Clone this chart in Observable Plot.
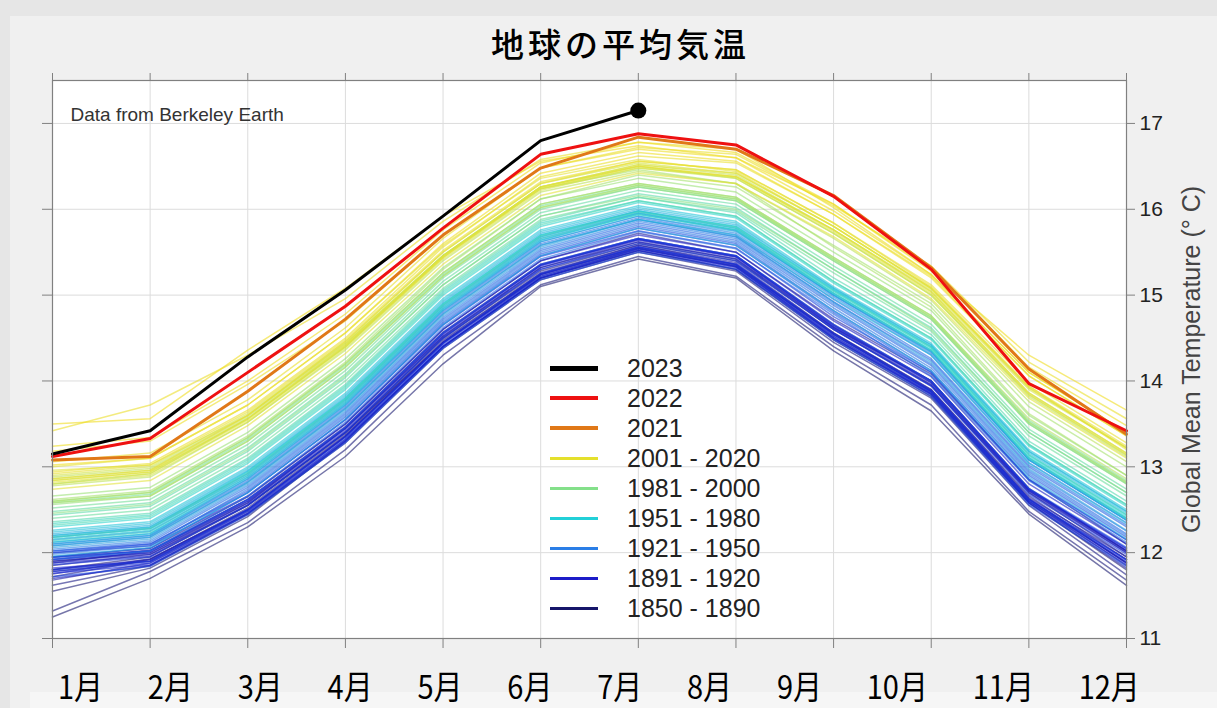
<!DOCTYPE html>
<html>
<head>
<meta charset="utf-8">
<script src="https://cdn.jsdelivr.net/npm/d3@7"></script>
<script src="https://cdn.jsdelivr.net/npm/@observablehq/plot@0.6"></script>
<style>
  html, body { margin: 0; padding: 0; }
  body { width: 1217px; height: 708px; background: #e6e6e6; position: relative; overflow: hidden;
         font-family: "Liberation Sans", Arial, sans-serif; }
  #panel { position: absolute; left: 10px; top: 16px; right: 0; bottom: 0; background: #f0f0f0; }
  #foot { position: absolute; left: 30px; top: 692px; right: 0; bottom: 0; background: #f6f6f6; }
  #title { position: absolute; left: 12px; width: 1217px; top: 19px; text-align: center;
           font-family: "Noto Sans CJK JP"; font-size: 33px; font-weight: 500; letter-spacing: 4px; color: #000; }
  #chart { position: absolute; left: 0; top: 65px; }
  #legend { position: absolute; left: 550px; top: 353px; }
  .row { display: flex; align-items: center; height: 30px; }
  .sw { width: 48px; margin-right: 29px; }
  .lab { font-size: 25px; color: #222; line-height: 30px; }
  #months { position: absolute; left: 58px; width: 1082px; top: 669px; display: flex; justify-content: space-between;
            font-family: "Noto Sans CJK JP"; font-size: 29px; line-height: 30px; color: #000; }
  #months span { display: inline-block; transform: scaleY(1.12); }
</style>
</head>
<body>
<div id="panel"></div>
<div id="foot"></div>
<div id="title"></div>
<div id="chart"></div>
<div id="legend"></div>
<div id="months"></div>
<script>
// Months, tick values and labels
const months = [1, 2, 3, 4, 5, 6, 7, 8, 9, 10, 11, 12];
const monthLabels = ["1月", "2月", "3月", "4月", "5月", "6月", "7月", "8月", "9月", "10月", "11月", "12月"];
const yTicks = [11, 12, 13, 14, 15, 16, 17];
const titleText = "地球の平均気温";
const yLabel = "Global Mean Temperature (° C)";
const credit = "Data from Berkeley Earth";

// Monthly global mean temperature (°C), one row per year
const years1850_1890 = [1850, 1853, 1856, 1859, 1862, 1865, 1868, 1871, 1874, 1877, 1880, 1883, 1886, 1889];
const temps1850_1890 = [
  [11.25, 11.70, 12.30, 13.12, 14.20, 15.10, 15.42, 15.20, 14.35, 13.65, 12.45, 11.62],
  [11.55, 11.82, 12.42, 13.30, 14.40, 15.20, 15.52, 15.30, 14.48, 13.82, 12.58, 11.80],
  [11.32, 11.78, 12.35, 13.20, 14.30, 15.12, 15.45, 15.22, 14.40, 13.72, 12.48, 11.68],
  [11.80, 11.95, 12.55, 13.40, 14.50, 15.28, 15.60, 15.40, 14.60, 13.95, 12.70, 11.95],
  [11.62, 11.85, 12.45, 13.28, 14.38, 15.18, 15.50, 15.28, 14.45, 13.80, 12.55, 11.74],
  [11.90, 12.00, 12.58, 13.45, 14.52, 15.32, 15.62, 15.42, 14.62, 14.00, 12.75, 12.02],
  [11.72, 11.92, 12.52, 13.38, 14.48, 15.25, 15.58, 15.36, 14.56, 13.90, 12.66, 11.92],
  [11.85, 11.98, 12.55, 13.40, 14.45, 15.24, 15.55, 15.34, 14.55, 13.88, 12.62, 11.88],
  [11.78, 11.90, 12.48, 13.35, 14.44, 15.22, 15.54, 15.33, 14.52, 13.86, 12.60, 11.85],
  [11.95, 12.05, 12.65, 13.50, 14.60, 15.40, 15.72, 15.50, 14.72, 14.08, 12.85, 12.10],
  [11.88, 12.02, 12.60, 13.45, 14.55, 15.35, 15.65, 15.45, 14.65, 13.98, 12.72, 12.00],
  [11.68, 11.88, 12.46, 13.32, 14.40, 15.20, 15.52, 15.30, 14.50, 13.84, 12.58, 11.82],
  [11.75, 11.93, 12.50, 13.36, 14.45, 15.24, 15.56, 15.35, 14.54, 13.88, 12.63, 11.88],
  [11.92, 12.03, 12.62, 13.47, 14.57, 15.36, 15.66, 15.46, 14.66, 14.00, 12.74, 12.02]
];
const years1891_1920 = [1891, 1893, 1895, 1897, 1899, 1901, 1903, 1905, 1907, 1909, 1911, 1913, 1915, 1917, 1919];
const temps1891_1920 = [
  [11.80, 11.92, 12.50, 13.36, 14.46, 15.26, 15.58, 15.38, 14.56, 13.90, 12.64, 11.95],
  [11.70, 11.85, 12.45, 13.30, 14.40, 15.20, 15.54, 15.33, 14.50, 13.85, 12.60, 11.88],
  [11.90, 11.98, 12.58, 13.42, 14.52, 15.32, 15.64, 15.44, 14.62, 13.96, 12.72, 12.02],
  [12.00, 12.08, 12.66, 13.50, 14.60, 15.40, 15.70, 15.50, 14.70, 14.05, 12.80, 12.10],
  [11.88, 11.96, 12.56, 13.40, 14.50, 15.30, 15.62, 15.42, 14.60, 13.94, 12.70, 12.00],
  [11.95, 12.02, 12.62, 13.46, 14.56, 15.35, 15.66, 15.46, 14.64, 14.00, 12.74, 12.05],
  [11.82, 11.90, 12.50, 13.35, 14.44, 15.24, 15.56, 15.36, 14.54, 13.88, 12.62, 11.92],
  [11.92, 12.00, 12.60, 13.44, 14.54, 15.34, 15.65, 15.45, 14.63, 13.98, 12.73, 12.04],
  [11.76, 11.86, 12.46, 13.30, 14.40, 15.20, 15.52, 15.32, 14.50, 13.84, 12.58, 11.86],
  [11.78, 11.88, 12.48, 13.32, 14.42, 15.22, 15.54, 15.34, 14.52, 13.86, 12.60, 11.90],
  [11.80, 11.90, 12.50, 13.34, 14.44, 15.25, 15.56, 15.36, 14.55, 13.88, 12.62, 11.92],
  [11.86, 11.95, 12.55, 13.40, 14.50, 15.30, 15.60, 15.40, 14.60, 13.94, 12.68, 11.98],
  [12.02, 12.10, 12.70, 13.55, 14.65, 15.45, 15.75, 15.55, 14.75, 14.10, 12.85, 12.15],
  [11.72, 11.84, 12.44, 13.28, 14.38, 15.18, 15.50, 15.30, 14.48, 13.82, 12.56, 11.84],
  [11.94, 12.02, 12.62, 13.46, 14.56, 15.36, 15.66, 15.46, 14.66, 14.00, 12.75, 12.06]
];
const years1921_1950 = [1921, 1923, 1925, 1927, 1929, 1931, 1933, 1935, 1937, 1939, 1941, 1944, 1947, 1950];
const temps1921_1950 = [
  [12.00, 12.10, 12.72, 13.58, 14.68, 15.48, 15.80, 15.60, 14.82, 14.12, 12.90, 12.18],
  [11.95, 12.05, 12.70, 13.55, 14.66, 15.46, 15.78, 15.58, 14.80, 14.10, 12.86, 12.15],
  [12.08, 12.18, 12.82, 13.68, 14.78, 15.58, 15.88, 15.68, 14.92, 14.24, 13.00, 12.30],
  [12.02, 12.12, 12.76, 13.62, 14.72, 15.52, 15.84, 15.64, 14.88, 14.18, 12.94, 12.22],
  [11.92, 12.02, 12.66, 13.52, 14.62, 15.42, 15.74, 15.54, 14.78, 14.06, 12.84, 12.12],
  [12.10, 12.20, 12.84, 13.70, 14.80, 15.60, 15.90, 15.70, 14.95, 14.26, 13.02, 12.32],
  [11.98, 12.08, 12.74, 13.60, 14.70, 15.50, 15.82, 15.62, 14.85, 14.15, 12.92, 12.20],
  [12.04, 12.14, 12.78, 13.64, 14.74, 15.54, 15.86, 15.66, 14.90, 14.20, 12.96, 12.25],
  [12.12, 12.22, 12.86, 13.72, 14.82, 15.62, 15.92, 15.72, 14.98, 14.30, 13.05, 12.35],
  [12.15, 12.25, 12.88, 13.74, 14.84, 15.64, 15.95, 15.75, 15.00, 14.32, 13.08, 12.38],
  [12.20, 12.30, 12.92, 13.78, 14.88, 15.68, 15.98, 15.78, 15.02, 14.35, 13.10, 12.40],
  [12.18, 12.28, 12.90, 13.76, 14.86, 15.66, 15.96, 15.76, 15.00, 14.34, 13.08, 12.38],
  [12.06, 12.16, 12.80, 13.66, 14.76, 15.56, 15.88, 15.68, 14.92, 14.22, 12.98, 12.26],
  [11.96, 12.06, 12.70, 13.56, 14.66, 15.46, 15.78, 15.58, 14.82, 14.12, 12.88, 12.16]
];
const years1951_1980 = [1951, 1953, 1955, 1957, 1959, 1961, 1963, 1965, 1967, 1969, 1971, 1973, 1975, 1977, 1979];
const temps1951_1980 = [
  [12.10, 12.20, 12.86, 13.72, 14.82, 15.62, 15.92, 15.74, 15.00, 14.34, 13.08, 12.38],
  [12.22, 12.32, 12.96, 13.82, 14.92, 15.72, 16.00, 15.82, 15.08, 14.42, 13.18, 12.48],
  [12.08, 12.18, 12.82, 13.68, 14.78, 15.58, 15.88, 15.70, 14.96, 14.30, 13.04, 12.34],
  [12.18, 12.28, 12.94, 13.80, 14.90, 15.70, 15.98, 15.80, 15.06, 14.40, 13.16, 12.46],
  [12.24, 12.34, 12.98, 13.84, 14.94, 15.74, 16.02, 15.84, 15.08, 14.42, 13.18, 12.48],
  [12.26, 12.36, 13.00, 13.86, 14.96, 15.76, 16.04, 15.86, 15.10, 14.44, 13.20, 12.50],
  [12.20, 12.30, 12.95, 13.80, 14.90, 15.70, 15.98, 15.80, 15.06, 14.40, 13.14, 12.44],
  [12.12, 12.22, 12.88, 13.74, 14.84, 15.64, 15.94, 15.76, 15.02, 14.36, 13.10, 12.40],
  [12.16, 12.26, 12.92, 13.78, 14.88, 15.68, 15.96, 15.78, 15.04, 14.38, 13.12, 12.42],
  [12.30, 12.40, 13.04, 13.90, 15.00, 15.80, 16.08, 15.90, 15.14, 14.48, 13.24, 12.54],
  [12.14, 12.24, 12.90, 13.76, 14.86, 15.66, 15.94, 15.76, 15.02, 14.36, 13.10, 12.40],
  [12.34, 12.44, 13.08, 13.94, 15.04, 15.84, 16.10, 15.92, 15.16, 14.50, 13.26, 12.56],
  [12.18, 12.28, 12.93, 13.79, 14.89, 15.69, 15.97, 15.79, 15.05, 14.39, 13.14, 12.44],
  [12.32, 12.42, 13.06, 13.92, 15.02, 15.82, 16.10, 15.92, 15.16, 14.50, 13.26, 12.56],
  [12.36, 12.46, 13.10, 13.96, 15.06, 15.86, 16.14, 15.96, 15.20, 14.54, 13.30, 12.60]
];
const years1981_2000 = [1981, 1983, 1985, 1987, 1988, 1990, 1992, 1994, 1995, 1997, 1998, 1999, 2000];
const temps1981_2000 = [
  [12.44, 12.54, 13.18, 14.04, 15.12, 15.92, 16.18, 16.02, 15.30, 14.62, 13.40, 12.70],
  [12.48, 12.58, 13.22, 14.08, 15.16, 15.96, 16.22, 16.06, 15.34, 14.66, 13.44, 12.74],
  [12.40, 12.50, 13.14, 14.00, 15.08, 15.88, 16.14, 15.98, 15.26, 14.58, 13.36, 12.66],
  [12.52, 12.62, 13.26, 14.12, 15.20, 16.00, 16.26, 16.10, 15.40, 14.72, 13.50, 12.80],
  [12.58, 12.68, 13.32, 14.18, 15.24, 16.04, 16.28, 16.12, 15.42, 14.74, 13.52, 12.82],
  [12.60, 12.70, 13.34, 14.20, 15.26, 16.06, 16.30, 16.14, 15.44, 14.76, 13.54, 12.84],
  [12.46, 12.56, 13.20, 14.06, 15.12, 15.92, 16.16, 16.00, 15.30, 14.60, 13.40, 12.70],
  [12.56, 12.66, 13.30, 14.16, 15.22, 16.02, 16.26, 16.10, 15.40, 14.72, 13.50, 12.80],
  [12.66, 12.76, 13.40, 14.26, 15.32, 16.12, 16.36, 16.20, 15.50, 14.82, 13.60, 12.90],
  [12.62, 12.72, 13.36, 14.22, 15.30, 16.12, 16.40, 16.26, 15.58, 14.90, 13.70, 13.00],
  [12.80, 12.92, 13.56, 14.40, 15.46, 16.24, 16.46, 16.30, 15.56, 14.86, 13.62, 12.90],
  [12.58, 12.66, 13.30, 14.16, 15.22, 16.02, 16.28, 16.12, 15.42, 14.74, 13.52, 12.82],
  [12.60, 12.70, 13.34, 14.20, 15.26, 16.06, 16.30, 16.14, 15.44, 14.76, 13.56, 12.86]
];
const years2001_2020 = [2001, 2002, 2003, 2004, 2005, 2006, 2007, 2008, 2009, 2010, 2011, 2012, 2013, 2014, 2015, 2016, 2017, 2018, 2019, 2020];
const temps2001_2020 = [
  [12.78, 12.88, 13.52, 14.36, 15.40, 16.20, 16.44, 16.30, 15.66, 14.94, 13.76, 13.06],
  [12.88, 12.98, 13.60, 14.44, 15.46, 16.26, 16.50, 16.36, 15.72, 15.00, 13.82, 13.12],
  [12.86, 12.96, 13.58, 14.42, 15.46, 16.26, 16.52, 16.40, 15.76, 15.04, 13.86, 13.16],
  [12.84, 12.94, 13.56, 14.40, 15.44, 16.24, 16.48, 16.36, 15.72, 15.00, 13.84, 13.14],
  [12.90, 13.00, 13.62, 14.46, 15.50, 16.30, 16.54, 16.42, 15.80, 15.08, 13.92, 13.22],
  [12.80, 12.90, 13.52, 14.38, 15.42, 16.22, 16.48, 16.38, 15.76, 15.06, 13.90, 13.22],
  [12.96, 13.02, 13.60, 14.44, 15.46, 16.26, 16.50, 16.38, 15.74, 15.02, 13.84, 13.14],
  [12.74, 12.84, 13.48, 14.32, 15.36, 16.16, 16.42, 16.30, 15.68, 14.96, 13.80, 13.10],
  [12.82, 12.92, 13.54, 14.40, 15.44, 16.26, 16.52, 16.42, 15.80, 15.08, 13.92, 13.22],
  [13.00, 13.10, 13.72, 14.56, 15.58, 16.36, 16.58, 16.44, 15.80, 15.08, 13.94, 13.20],
  [12.84, 12.94, 13.56, 14.42, 15.44, 16.24, 16.50, 16.38, 15.76, 15.04, 13.86, 13.16],
  [12.86, 12.96, 13.60, 14.46, 15.50, 16.30, 16.56, 16.46, 15.84, 15.10, 13.94, 13.24],
  [12.92, 13.02, 13.64, 14.48, 15.52, 16.32, 16.56, 16.46, 15.84, 15.12, 13.98, 13.28],
  [12.94, 13.04, 13.66, 14.50, 15.56, 16.38, 16.62, 16.54, 15.94, 15.22, 14.06, 13.36],
  [13.06, 13.16, 13.78, 14.62, 15.66, 16.48, 16.72, 16.64, 16.04, 15.34, 14.22, 13.56],
  [13.42, 13.72, 14.30, 14.96, 15.86, 16.58, 16.78, 16.70, 16.02, 15.24, 14.10, 13.40],
  [13.18, 13.30, 13.96, 14.70, 15.70, 16.48, 16.70, 16.60, 15.98, 15.24, 14.10, 13.40],
  [13.02, 13.10, 13.72, 14.56, 15.60, 16.42, 16.66, 16.56, 15.94, 15.20, 14.06, 13.36],
  [13.24, 13.34, 14.00, 14.78, 15.76, 16.54, 16.78, 16.66, 16.06, 15.30, 14.16, 13.48],
  [13.50, 13.56, 14.36, 15.08, 15.92, 16.56, 16.74, 16.60, 16.06, 15.28, 14.30, 13.66]
];
const temps2021 = [13.08, 13.12, 13.88, 14.72, 15.70, 16.48, 16.84, 16.70, 16.16, 15.32, 14.14, 13.38];
const temps2022 = [13.12, 13.33, 14.10, 14.87, 15.78, 16.64, 16.88, 16.75, 16.15, 15.30, 13.97, 13.42];
const temps2023 = [13.15, 13.42, 14.28, 15.06, 15.92, 16.80, 17.15];

// Legend entries
const legendLabels = ["2023", "2022", "2021", "2001 - 2020", "1981 - 2000", "1951 - 1980", "1921 - 1950", "1891 - 1920", "1850 - 1890"];
const legendColors = ["#000000", "#ee1111", "#e07818", "#e4e02c", "#84e08a", "#22d0d8", "#2a7ee6", "#1c1cc8", "#16166a"];

// Jet-like ramp from the oldest years (navy) to the most recent (yellow)
const rampYears = [1850, 1890, 1905, 1935, 1965, 1990, 2008, 2020];
const rampColors = ["#1a1a70", "#1c1cb0", "#1420d8", "#2a7ee6", "#22d0d8", "#80e090", "#e2e23a", "#f0dc20"];
const yearColor = d3.scaleLinear().domain(rampYears).range(rampColors).interpolate(d3.interpolateRgb);

const toRows = (years, temps) =>
  years.flatMap((year, i) => temps[i].map((temp, m) => ({year, month: months[m], temp})));

const history = [
  toRows(years1850_1890, temps1850_1890),
  toRows(years1891_1920, temps1891_1920),
  toRows(years1921_1950, temps1921_1950),
  toRows(years1951_1980, temps1951_1980),
  toRows(years1981_2000, temps1981_2000),
  toRows(years2001_2020, temps2001_2020)
].flat();
const rows2021 = toRows([2021], [temps2021]);
const rows2022 = toRows([2022], [temps2022]);
const rows2023 = toRows([2023], [temps2023]);

const chart = Plot.plot({
  width: 1217,
  height: 590,
  marginLeft: 52,
  marginRight: 91,
  marginTop: 15,
  marginBottom: 17,
  style: {background: "transparent", fontFamily: "'Liberation Sans', Arial, sans-serif", fontSize: "21px", color: "#222"},
  x: {domain: [1, 12]},
  y: {domain: [11, 17.5]},
  marks: [
    Plot.frame({fill: "white", stroke: null}),
    Plot.gridX(months, {stroke: "#dcdcdc", strokeOpacity: 1}),
    Plot.gridY(yTicks, {stroke: "#dcdcdc", strokeOpacity: 1}),
    Plot.text([credit], {frameAnchor: "top-left", dx: 18, dy: 27, textAnchor: "start", fontSize: 19, fill: "#333"}),
    Plot.line(history, {x: "month", y: "temp", z: "year", stroke: d => yearColor(d.year), strokeWidth: 1.5, strokeOpacity: 0.6}),
    Plot.line(rows2021, {x: "month", y: "temp", stroke: legendColors[2], strokeWidth: 3}),
    Plot.line(rows2022, {x: "month", y: "temp", stroke: legendColors[1], strokeWidth: 3}),
    Plot.line(rows2023, {x: "month", y: "temp", stroke: legendColors[0], strokeWidth: 3}),
    Plot.dot(rows2023.slice(-1), {x: "month", y: "temp", r: 8, fill: legendColors[0], stroke: null}),
    Plot.frame({stroke: "#808080", strokeWidth: 1.2}),
    Plot.axisX(months, {anchor: "bottom", tickSize: 10, tickFormat: () => "", label: null, stroke: "#808080"}),
    Plot.axisX(months, {anchor: "top", tickSize: 8, tickFormat: () => "", label: null, stroke: "#808080"}),
    Plot.axisY(yTicks, {anchor: "left", tickSize: 10, tickFormat: () => "", label: null, stroke: "#808080"}),
    Plot.axisY(yTicks, {anchor: "right", tickSize: 8, tickPadding: 5, tickFormat: "d", label: null, stroke: "#808080", fill: "#222"}),
    Plot.text([yLabel], {frameAnchor: "right", rotate: -90, dx: 65, fontSize: 25, fill: "#444", textAnchor: "middle"})
  ]
});
document.getElementById("chart").appendChild(chart);

document.getElementById("title").textContent = titleText;

const legend = document.getElementById("legend");
legendLabels.forEach((label, i) => {
  const row = document.createElement("div");
  row.className = "row";
  const sw = document.createElement("div");
  sw.className = "sw";
  sw.style.height = (i === 0 ? 5 : i < 3 ? 4 : 3) + "px";
  sw.style.background = legendColors[i];
  const lab = document.createElement("div");
  lab.className = "lab";
  lab.textContent = label;
  row.appendChild(sw);
  row.appendChild(lab);
  legend.appendChild(row);
});

const monthsRow = document.getElementById("months");
monthLabels.forEach(m => {
  const s = document.createElement("span");
  s.textContent = m;
  monthsRow.appendChild(s);
});
</script>
</body>
</html>
